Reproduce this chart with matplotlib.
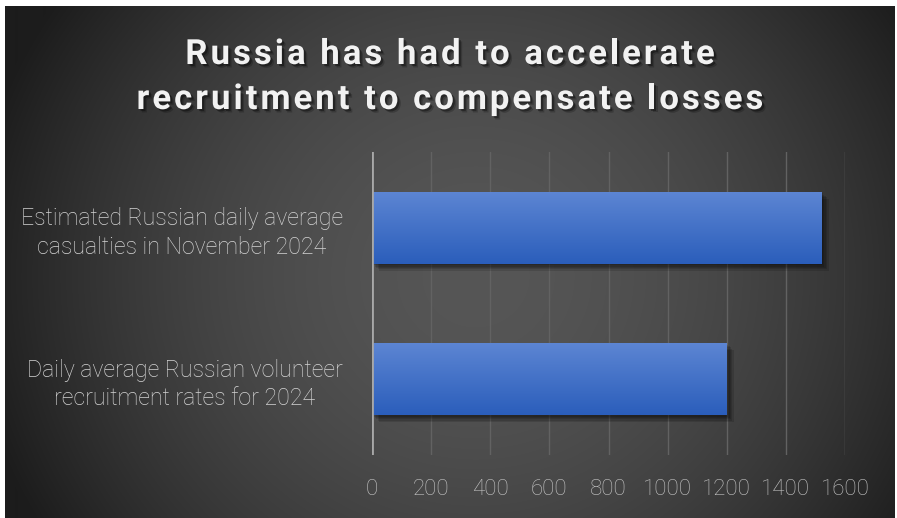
import numpy as np
import matplotlib.pyplot as plt
import matplotlib.patheffects as pe
from matplotlib.font_manager import FontProperties

plt.rcParams['font.family'] = ['Roboto', 'DejaVu Sans']

categories = ['Estimated Russian daily average\ncasualties in November 2024',
              'Daily average Russian volunteer\nrecruitment rates for 2024']
values = [1521, 1200]
xticks = [0, 200, 400, 600, 800, 1000, 1200, 1400, 1600]
title_lines = ['Russia has had to accelerate', 'recruitment to compensate losses']

W, H = 897, 518
fig = plt.figure(figsize=(W / 100, H / 100), dpi=100, facecolor='white')

# dark radial background panel
bg = fig.add_axes([5 / W, 0, 889 / W, 512 / H])
bg.set_axis_off()
yy, xx = np.mgrid[0:512, 0:889]
d = np.hypot(xx - 470, (yy - 270) * 1.05) / 520
g = np.clip(86 - 60 * d ** 1.8, 28, 90) / 255
bg.imshow(np.dstack([g, g, g]), aspect='auto', interpolation='bilinear')

ax = fig.add_axes([372 / W, 63 / H, 473 / W, 303 / H])
ax.set_facecolor('none')
ypos = np.arange(len(values))
soft_shadow = [pe.SimplePatchShadow(offset=(k, -k), shadow_rgbFace='black', alpha=0.13)
               for k in (1, 2, 3, 4, 5)]
bars = ax.barh(ypos, values, height=0.475, color='#3f6cc8', zorder=3,
               path_effects=soft_shadow + [pe.Normal()])

# vertical gradient on each bar
grad = np.linspace(0, 1, 64)[:, None]
top = np.array([0x5c, 0x85, 0xd3]) / 255
bot = np.array([0x2b, 0x5e, 0xbb]) / 255
img = top[None, None, :] * (1 - grad[..., None]) + bot[None, None, :] * grad[..., None]
for b in bars:
    x0, y0 = b.get_x(), b.get_y()
    ax.imshow(img, extent=[x0, x0 + b.get_width(), y0 + b.get_height(), y0],
              aspect='auto', zorder=4, interpolation='bilinear')

ax.set_xlim(0, 1600)
ax.set_ylim(1.5, -0.5)
ax.set_xticks(xticks)
ax.set_yticks(ypos)
ax.set_yticklabels(categories, multialignment='center', linespacing=1.3)
ax.grid(axis='x', color='#626262', linewidth=1, zorder=1)
ax.axvline(0, color='#a8a8a8', linewidth=2, zorder=5)
for s in ax.spines.values():
    s.set_visible(False)
ax.tick_params(axis='x', length=0, pad=17, labelsize=16, labelcolor='#c4c4c4')
ax.tick_params(axis='y', length=0, pad=21, labelsize=16.7, labelcolor='#d4d4d4')
for lab in ax.get_xticklabels() + ax.get_yticklabels():
    lab.set_fontweight('light')

# title with wide letter spacing, placed glyph by glyph
title_font = FontProperties(family=['Roboto', 'DejaVu Sans'], weight='bold', size=25)
renderer = fig.canvas.get_renderer()


def text_w(s):
    return renderer.get_text_width_height_descent(s, title_font, ismath=False)[0]


def spaced_line(s, xc, ybase, track):
    total = text_w(s) + track * (len(s) - 1)
    x0 = xc - total / 2
    for i, c in enumerate(s):
        if c == ' ':
            continue
        left = text_w(s[:i + 1]) - text_w(c)
        fig.text((x0 + left + i * track) / W, 1 - ybase / H, c, ha='left', va='baseline',
                 fontproperties=title_font, color='#f2f2f2',
                 path_effects=[pe.SimplePatchShadow(offset=(1.5, -1.5), shadow_rgbFace='black', alpha=0.35),
                               pe.SimplePatchShadow(offset=(2.5, -2.5), shadow_rgbFace='black', alpha=0.2),
                               pe.Normal()])


spaced_line(title_lines[0], 450, 64, 3.0)
spaced_line(title_lines[1], 450, 109, 3.0)

fig.savefig('out.png', dpi=100, facecolor='white')
